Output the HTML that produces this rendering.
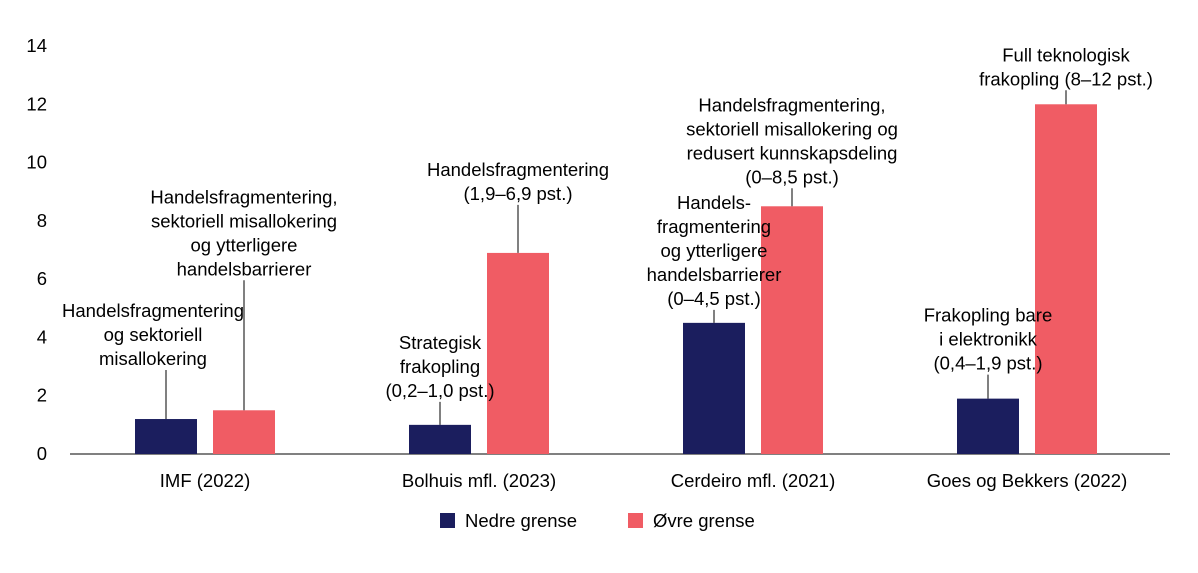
<!DOCTYPE html>
<html><head><meta charset="utf-8"><style>
body{margin:0;background:#fff;}
svg text{font-family:"Liberation Sans",sans-serif;fill:#000;}
</style></head><body>
<svg id="c" width="1198" height="568" xmlns="http://www.w3.org/2000/svg"></svg>
<script>
const categories=["IMF (2022)","Bolhuis mfl. (2023)","Cerdeiro mfl. (2021)","Goes og Bekkers (2022)"];
const lowerValues=[1.2,1.0,4.5,1.9];
const upperValues=[1.5,6.9,8.5,12];
const yTicks=[0,2,4,6,8,10,12,14];
const lowerLabels=[["Handelsfragmentering","og sektoriell","misallokering"],["Strategisk","frakopling","(0,2–1,0 pst.)"],["Handels-","fragmentering","og ytterligere","handelsbarrierer","(0–4,5 pst.)"],["Frakopling bare","i elektronikk","(0,4–1,9 pst.)"]];
const upperLabels=[["Handelsfragmentering,","sektoriell misallokering","og ytterligere","handelsbarrierer"],["Handelsfragmentering","(1,9–6,9 pst.)"],["Handelsfragmentering,","sektoriell misallokering og","redusert kunnskapsdeling","(0–8,5 pst.)"],["Full teknologisk","frakopling (8–12 pst.)"]];
const lowerLead=[49,23,13,24];
const upperLead=[130,48,18,14];
const lowerShift=[-13,0,0,0];
const upperShift=[0,0,0,0];
const svg=document.getElementById('c');
const NS="http://www.w3.org/2000/svg";
const y0=454,y1=46,vmax=14;
const y=v=>y0-(v/vmax)*(y0-y1);
const gx=i=>205+i*274;
const bw=62,LINE=24,FS=18.5;
function el(t,a){const e=document.createElementNS(NS,t);for(const k in a)e.setAttribute(k,a[k]);svg.appendChild(e);return e;}
yTicks.forEach(t=>{const e=el('text',{x:47,y:y(t)+6,'text-anchor':'end','font-size':FS});e.textContent=t;

});
const ax=el('line',{x1:70,x2:1170,y1:y0,y2:y0,stroke:'#000','stroke-width':1});


function label(lines,cx,bottom,name){
  const n=lines.length;
  lines.forEach((s,k)=>{const e=el('text',{x:cx,y:bottom-(n-1-k)*LINE,'text-anchor':'middle','font-size':FS});e.textContent=s;
  
  });
}
categories.forEach((c,i)=>{
  const cx=gx(i);
  const lx=cx-70,ux=cx+8;
  const lt=y(lowerValues[i]),ut=y(upperValues[i]);
  const b1=el('rect',{x:lx,y:lt,width:bw,height:y0-lt,fill:'#1b1e5e'});
  
  
  const b2=el('rect',{x:ux,y:ut,width:bw,height:y0-ut,fill:'#f05c64'});
  
  
  const lcx=lx+bw/2,ucx=ux+bw/2;
  const l1=el('line',{x1:lcx,x2:lcx,y1:lt-lowerLead[i],y2:lt,stroke:'#000','stroke-width':1});
  
  
  const l2=el('line',{x1:ucx,x2:ucx,y1:ut-upperLead[i],y2:ut,stroke:'#000','stroke-width':1});
  
  
  label(lowerLabels[i],lcx+lowerShift[i],lt-lowerLead[i]-5,'annotation-lower');
  label(upperLabels[i],ucx+upperShift[i],ut-upperLead[i]-5,'annotation-upper');
  const t=el('text',{x:cx,y:487,'text-anchor':'middle','font-size':FS});t.textContent=c;
  
  
});
const s1=el('rect',{x:440,y:513,width:15,height:15,fill:'#1b1e5e'});


const t1=el('text',{x:465,y:527,'font-size':FS});t1.textContent='Nedre grense';


const s2=el('rect',{x:628,y:513,width:15,height:15,fill:'#f05c64'});


const t2=el('text',{x:653,y:527,'font-size':FS});t2.textContent='Øvre grense';


</script>
</body></html>
